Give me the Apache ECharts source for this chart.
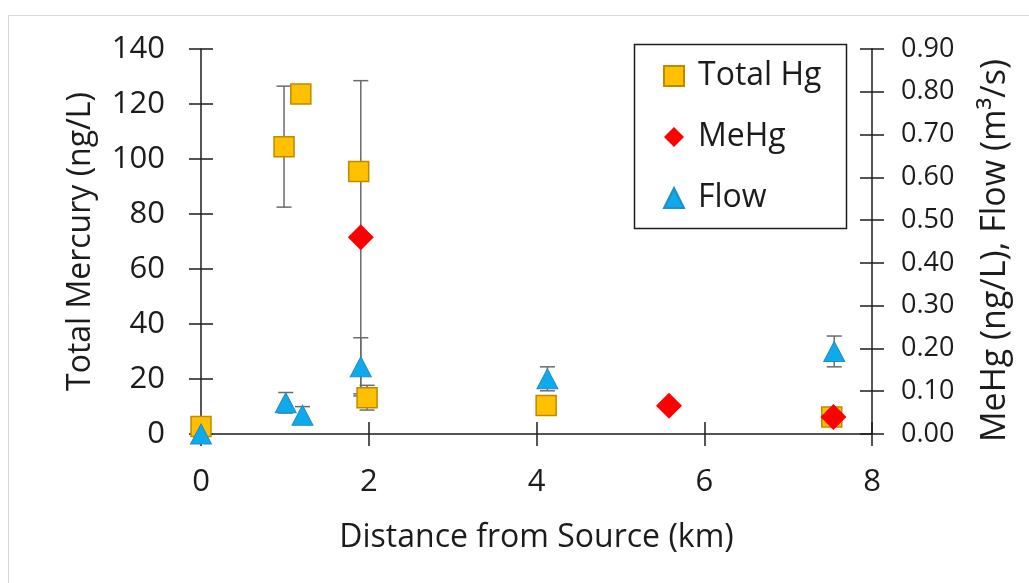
<!DOCTYPE html>
<html>
<head>
<meta charset="utf-8">
<script src="https://cdn.jsdelivr.net/npm/echarts@6/dist/echarts.min.js"></script>
<style>
html,body{margin:0;padding:0;background:#fff;}
#chart{width:1029px;height:583px;}
</style>
</head>
<body>
<div id="chart"></div>
<script>
// Total Hg (ng/L) - left axis
const totalX = [0, 0.99, 1.19, 1.88, 1.98, 4.115, 7.52];
const totalHg = [2.7, 104.5, 123.6, 95.5, 13.2, 10.4, 6.2];
const totalErrX = [0.99, 1.98];
const totalErrLow = [82.5, 8.7];
const totalErrHigh = [126.5, 17.7];

// MeHg (ng/L) - right axis
const mehgX = [1.905, 5.58, 7.54];
const mehg = [0.46, 0.066, 0.040];
const mehgErrX = [1.905];
const mehgErrLow = [0.094];
const mehgErrHigh = [0.826];

// Flow (m3/s) - right axis
const flowX = [0, 1.01, 1.21, 1.905, 4.13, 7.55];
const flow = [0, 0.073, 0.044, 0.157, 0.129, 0.193];
const flowErrX = [1.01, 1.21, 1.905, 4.13, 7.55];
const flowErrLow = [0.049, 0.024, 0.089, 0.101, 0.157];
const flowErrHigh = [0.097, 0.064, 0.225, 0.157, 0.229];

const font = '"Open Sans", Lato, sans-serif';
const ink = '#1c1c1c';

const chart = echarts.init(document.getElementById('chart'));

function errorBars(xs, lows, highs, yAxisIndex) {
    return {
        type: 'custom',
        xAxisIndex: 0,
        yAxisIndex: yAxisIndex,
        silent: true,
        clip: false,
        data: xs.map((x, i) => [x, lows[i], highs[i]]),
        encode: {x: 0, y: [1, 2]},
        renderItem(params, api) {
            const x = api.value(0);
            const lo = api.coord([x, api.value(1)]);
            const hi = api.coord([x, api.value(2)]);
            const w = 7.5;
            const style = {stroke: '#6b6b6b', lineWidth: 1.5};
            return {
                type: 'group',
                children: [
                    {type: 'line', shape: {x1: lo[0], y1: lo[1], x2: hi[0], y2: hi[1]}, style: style},
                    {type: 'line', shape: {x1: lo[0] - w, y1: lo[1], x2: lo[0] + w, y2: lo[1]}, style: style},
                    {type: 'line', shape: {x1: hi[0] - w, y1: hi[1], x2: hi[0] + w, y2: hi[1]}, style: style}
                ]
            };
        }
    };
}

const tickStyle = {color: ink, width: 1.5};

// second copy of each axis only draws the inner half of the cross ticks
function innerTicks(base, position) {
    return Object.assign({}, base, {
        position: position,
        axisLine: {show: false, onZero: false},
        axisTick: {show: true, inside: true, length: 12, lineStyle: tickStyle},
        axisLabel: {show: false},
        splitLine: {show: false},
        name: ''
    });
}

const xMain = {
    type: 'value', min: 0, max: 8, interval: 2, position: 'bottom',
    axisLine: {onZero: false, lineStyle: tickStyle},
    axisTick: {length: 12, lineStyle: tickStyle},
    axisLabel: {fontFamily: font, fontSize: 31, color: ink, margin: 33},
    splitLine: {show: false},
    name: 'Distance from Source (km)', nameLocation: 'middle', nameGap: 88,
    nameTextStyle: {fontFamily: font, fontSize: 32, color: ink}
};

const yLeft = {
    type: 'value', min: 0, max: 140, interval: 20, position: 'left',
    axisLine: {show: true, onZero: false, lineStyle: tickStyle},
    axisTick: {show: true, length: 12, lineStyle: tickStyle},
    axisLabel: {fontFamily: font, fontSize: 31, color: ink, margin: 36},
    splitLine: {show: false},
    name: 'Total Mercury (ng/L)', nameLocation: 'middle', nameRotate: 90, nameGap: 104,
    nameTextStyle: {fontFamily: font, fontSize: 32, color: ink}
};

const yRight = {
    type: 'value', min: 0, max: 0.9, interval: 0.1, position: 'right',
    axisLine: {show: true, onZero: false, lineStyle: tickStyle},
    axisTick: {show: true, length: 12, lineStyle: tickStyle},
    axisLabel: {fontFamily: font, fontSize: 27, color: ink, margin: 29, formatter: v => v.toFixed(2)},
    splitLine: {show: false},
    name: 'MeHg (ng/L), Flow (m³/s)', nameLocation: 'middle', nameRotate: 90, nameGap: 106,
    nameTextStyle: {fontFamily: font, fontSize: 34, color: ink, padding: [0, 18, 0, 0]}
};

const option = {
    animation: false,
    backgroundColor: '#fff',
    grid: {left: 201, right: 157, top: 49, bottom: 149, containLabel: false, outerBoundsMode: 'none'},
    graphic: [
        {type: 'rect', shape: {x: 8.5, y: 15.5, width: 1100, height: 700}, style: {fill: 'none', stroke: '#d9d9d9', lineWidth: 1}, z: -10},
        {type: 'rect', shape: {x: 634.5, y: 44.5, width: 212, height: 184}, style: {fill: '#fff', stroke: ink, lineWidth: 1.5}, z: 1}
    ],
    legend: {
        data: ['Total Hg', 'MeHg', 'Flow'],
        orient: 'vertical',
        left: 663,
        top: 60,
        padding: 0,
        itemWidth: 20,
        itemHeight: 20,
        itemGap: 29,
        z: 5,
        textStyle: {fontFamily: font, fontSize: 32, lineHeight: 30, color: ink, padding: [0, 0, 0, 9]}
    },
    xAxis: [xMain, innerTicks(xMain, 'bottom')],
    yAxis: [yLeft, yRight, innerTicks(yLeft, 'left'), innerTicks(yRight, 'right')],
    series: [
        errorBars(totalErrX, totalErrLow, totalErrHigh, 0),
        {
            name: 'Total Hg', type: 'scatter', yAxisIndex: 0, clip: false,
            symbol: 'rect', symbolSize: 20,
            itemStyle: {color: '#FFC000', borderColor: '#BF8A00', borderWidth: 1.5, opacity: 1},
            data: totalX.map((x, i) => [x, totalHg[i]])
        },
        errorBars(mehgErrX, mehgErrLow, mehgErrHigh, 1),
        {
            name: 'MeHg', type: 'scatter', yAxisIndex: 1, clip: false,
            symbol: 'diamond', symbolSize: 26,
            itemStyle: {color: '#FF0000', opacity: 1},
            data: mehgX.map((x, i) => [x, mehg[i]])
        },
        errorBars(flowErrX, flowErrLow, flowErrHigh, 1),
        {
            name: 'Flow', type: 'scatter', yAxisIndex: 1, clip: false,
            symbol: 'triangle', symbolSize: [21, 20],
            itemStyle: {color: '#0FAAEB', borderColor: '#1C8FCC', borderWidth: 1, opacity: 1},
            data: flowX.map((x, i) => [x, flow[i]])
        }
    ]
};

chart.setOption(option);
</script>
</body>
</html>
